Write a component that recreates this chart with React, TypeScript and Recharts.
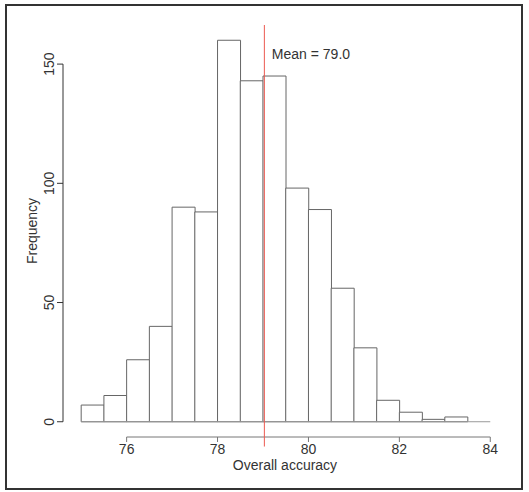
import { Bar, ComposedChart, ReferenceLine, XAxis, YAxis } from "recharts";

// histogram bins (left edge, width 0.5) and counts
const BIN_LEFT = [75, 75.5, 76, 76.5, 77, 77.5, 78, 78.5, 79, 79.5, 80, 80.5, 81, 81.5, 82, 82.5, 83];
const COUNTS = [7, 11, 26, 40, 90, 88, 160, 143, 145, 98, 89, 56, 31, 9, 4, 1, 2];
const BIN_WIDTH = 0.5;

const X_TICKS = [76, 78, 80, 82, 84];
const Y_TICKS = [0, 50, 100, 150];

const MEAN = 79.03;
const MEAN_LABEL = "Mean = 79.0";

const data = BIN_LEFT.map((lo, i) => ({ mid: lo + BIN_WIDTH / 2, count: COUNTS[i] }));

const FONT = '"Liberation Sans", Arial, Helvetica, sans-serif';
const X_DOMAIN: [number, number] = [74.6, 84.5];
const Y_DOMAIN: [number, number] = [-6.4, 166.4];

function YTick(props: any) {
  const { x, y, payload } = props;
  const cx = x - 1;
  return (
    <text
      x={cx}
      y={y}
      transform={`rotate(-90, ${cx}, ${y})`}
      textAnchor="middle"
      fontSize={14}
      fontFamily={FONT}
      fill="#333"
    >
      {payload.value}
    </text>
  );
}

export default function App() {
  return (
    <div style={{ position: "absolute", left: 0, top: 0, width: 529, height: 492, background: "#fff" }}>
      <div
        style={{
          position: "absolute",
          left: 5,
          top: 4,
          width: 518,
          height: 486,
          boxSizing: "border-box",
          border: "2px solid #333",
        }}
      />
      <div style={{ position: "absolute", left: 0, top: 0 }}>
        <ComposedChart
          width={529}
          height={492}
          data={data}
          margin={{ top: 25, right: 16, left: 13, bottom: 25 }}
          barCategoryGap={0}
          barGap={0}
        >
          <XAxis
            dataKey="mid"
            type="number"
            domain={X_DOMAIN}
            allowDataOverflow
            ticks={X_TICKS}
            interval={0}
            axisLine={false}
            tickLine={{ stroke: "#777" }}
            tickSize={5}
            tickMargin={2}
            height={30}
            tick={{ fontSize: 14, fontFamily: FONT, fill: "#333" }}
            label={(p: any) => {
              const vb = p.viewBox || { x: 63, y: 437, width: 450 };
              return (
                <text
                  x={vb.x + vb.width / 2 - 3}
                  y={vb.y + 33}
                  textAnchor="middle"
                  fontSize={14}
                  fontFamily={FONT}
                  fill="#333"
                >
                  Overall accuracy
                </text>
              );
            }}
          />
          <YAxis
            type="number"
            domain={Y_DOMAIN}
            allowDataOverflow
            ticks={Y_TICKS}
            interval={0}
            width={50}
            axisLine={false}
            tickLine={{ stroke: "#333" }}
            tickSize={6}
            tickMargin={2}
            tick={<YTick />}
            label={(p: any) => {
              const vb = p.viewBox || { x: 13, y: 25, height: 412 };
              const cx = vb.x + 24;
              const cy = vb.y + vb.height / 2;
              return (
                <text
                  x={cx}
                  y={cy}
                  transform={`rotate(-90, ${cx}, ${cy})`}
                  textAnchor="middle"
                  fontSize={14}
                  fontFamily={FONT}
                  fill="#333"
                >
                  Frequency
                </text>
              );
            }}
          />
          {/* baseline under the bars */}
          <ReferenceLine
            segment={[
              { x: 75, y: 0 },
              { x: 84, y: 0 },
            ]}
            stroke="#999"
            ifOverflow="visible"
          />
          <Bar dataKey="count" fill="#fff" stroke="#666" strokeWidth={1} isAnimationActive={false} />
          {/* R-style detached axes */}
          <ReferenceLine
            segment={[
              { x: 76, y: -6.4 },
              { x: 84, y: -6.4 },
            ]}
            stroke="#777"
            ifOverflow="visible"
          />
          <ReferenceLine
            segment={[
              { x: X_DOMAIN[0], y: 0 },
              { x: X_DOMAIN[0], y: 150 },
            ]}
            stroke="#333"
            ifOverflow="visible"
          />
          <ReferenceLine
            segment={[
              { x: MEAN, y: 166.4 },
              { x: MEAN, y: -10.4 },
            ]}
            stroke="#ec5a50"
            strokeWidth={1}
            ifOverflow="visible"
            label={(p: any) => {
              const vb = p.viewBox || { x: 264, y: 25 };
              return (
                <text x={vb.x + 7.5} y={vb.y + 34} fontSize={14} fontFamily={FONT} fill="#333">
                  {MEAN_LABEL}
                </text>
              );
            }}
          />
        </ComposedChart>
      </div>
    </div>
  );
}
